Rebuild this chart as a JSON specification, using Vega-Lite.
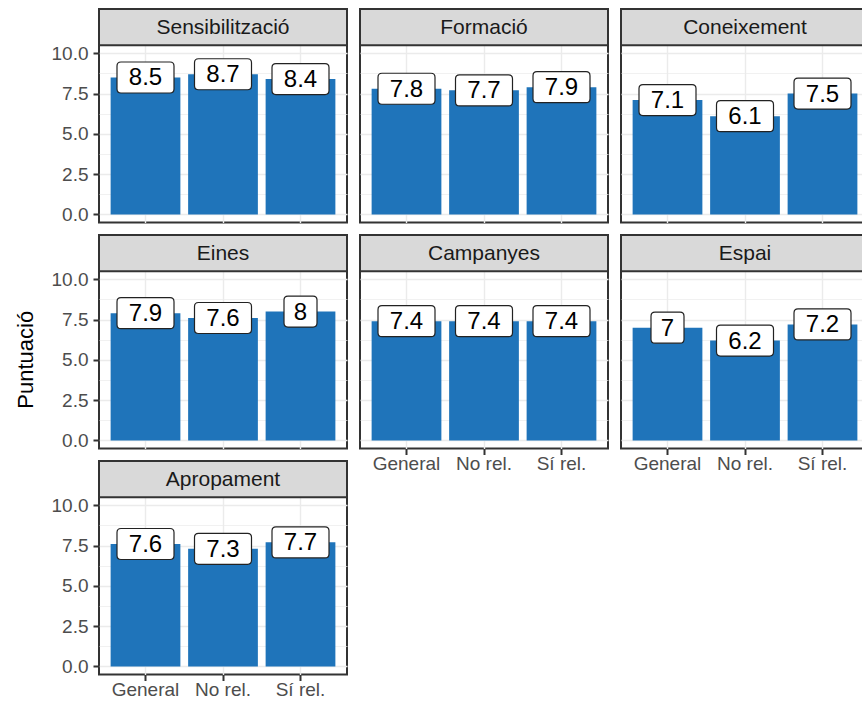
{
  "$schema": "https://vega.github.io/schema/vega-lite/v6.json",
  "padding": {"top": 7, "left": 15, "right": 0, "bottom": 0},
  "background": "white",
  "title": {"text": "Puntuació", "orient": "left", "anchor": "middle", "font": "Liberation Sans", "fontSize": 22, "fontWeight": "normal", "color": "#000000", "offset": 12, "dx": -6},
  "data": {"values": [
    {"panel": "Sensibilització", "group": "General", "value": 8.5},
    {"panel": "Sensibilització", "group": "No rel.", "value": 8.7},
    {"panel": "Sensibilització", "group": "Sí rel.", "value": 8.4},
    {"panel": "Formació", "group": "General", "value": 7.8},
    {"panel": "Formació", "group": "No rel.", "value": 7.7},
    {"panel": "Formació", "group": "Sí rel.", "value": 7.9},
    {"panel": "Coneixement", "group": "General", "value": 7.1},
    {"panel": "Coneixement", "group": "No rel.", "value": 6.1},
    {"panel": "Coneixement", "group": "Sí rel.", "value": 7.5},
    {"panel": "Eines", "group": "General", "value": 7.9},
    {"panel": "Eines", "group": "No rel.", "value": 7.6},
    {"panel": "Eines", "group": "Sí rel.", "value": 8},
    {"panel": "Campanyes", "group": "General", "value": 7.4},
    {"panel": "Campanyes", "group": "No rel.", "value": 7.4},
    {"panel": "Campanyes", "group": "Sí rel.", "value": 7.4},
    {"panel": "Espai", "group": "General", "value": 7},
    {"panel": "Espai", "group": "No rel.", "value": 6.2},
    {"panel": "Espai", "group": "Sí rel.", "value": 7.2},
    {"panel": "Apropament", "group": "General", "value": 7.6},
    {"panel": "Apropament", "group": "No rel.", "value": 7.3},
    {"panel": "Apropament", "group": "Sí rel.", "value": 7.7}
  ]},
  "columns": 3,
  "spacing": {"row": 12, "column": 13},
  "bounds": "flush",
  "concat": [
    {
      "transform": [{"filter": "datum.panel === 'Sensibilització'"}],
      "width": 248, "height": 213.5,
      "encoding": {
        "x": {"field": "group", "type": "nominal", "sort": ["General", "No rel.", "Sí rel."], "scale": {"paddingInner": 0.1, "paddingOuter": 0.15}, "axis": {"title": null, "labels": false, "ticks": false, "bandPosition": 0.5}},
        "y": {"field": "value", "type": "quantitative", "scale": {"domain": [-0.5, 12.75], "nice": false, "zero": false}, "axis": {"title": null, "values": [0, 1.25, 2.5, 3.75, 5, 6.25, 7.5, 8.75, 10], "labelExpr": "datum.value % 2.5 === 0 ? format(datum.value, '.1f') : ''", "gridWidth": {"condition": {"test": "datum.value % 2.5 === 0", "value": 1.4}, "value": 0.7}, "tickOpacity": {"condition": {"test": "datum.value % 2.5 === 0", "value": 1}, "value": 0}}}
      },
      "layer": [
        {"mark": {"type": "bar", "color": "#1F74BA"}},
        {"mark": {"type": "point", "filled": true, "fill": "white", "stroke": "#222222", "strokeWidth": 1.2, "opacity": 1, "size": 3249},
         "encoding": {"shape": {"condition": {"test": "datum.value % 1 === 0", "value": "M-0.439,-0.544H0.439Q0.579,-0.544 0.579,-0.404V0.404Q0.579,0.544 0.439,0.544H-0.439Q-0.579,0.544 -0.579,0.404V-0.404Q-0.579,-0.544 -0.439,-0.544Z"}, "value": "M-0.86,-0.544H0.86Q1,-0.544 1,-0.404V0.404Q1,0.544 0.86,0.544H-0.86Q-1,0.544 -1,0.404V-0.404Q-1,-0.544 -0.86,-0.544Z"}}},
        {"mark": {"type": "text", "font": "Liberation Sans", "fontSize": 24, "color": "#000000", "baseline": "middle", "dy": 1},
         "encoding": {"text": {"field": "value", "type": "nominal"}}},
        {"transform": [{"filter": "datum.group === 'General'"}],
         "mark": {"type": "rect", "fill": "#D9D9D9", "stroke": "#333333", "strokeWidth": 2},
         "encoding": {"x": {"value": 0}, "x2": {"value": "width"}, "y": {"datum": 10.5, "type": "quantitative"}, "y2": {"datum": 12.75}}},
        {"transform": [{"filter": "datum.group === 'General'"}],
         "mark": {"type": "text", "font": "Liberation Sans", "fontSize": 21, "color": "#1A1A1A", "baseline": "middle", "dy": 1},
         "encoding": {"x": {"datum": "No rel.", "type": "nominal"}, "y": {"datum": 11.62, "type": "quantitative"}, "text": {"field": "panel", "type": "nominal"}}}
      ]
    },
    {
      "transform": [{"filter": "datum.panel === 'Formació'"}],
      "width": 248, "height": 213.5,
      "encoding": {
        "x": {"field": "group", "type": "nominal", "sort": ["General", "No rel.", "Sí rel."], "scale": {"paddingInner": 0.1, "paddingOuter": 0.15}, "axis": {"title": null, "labels": false, "ticks": false, "bandPosition": 0.5}},
        "y": {"field": "value", "type": "quantitative", "scale": {"domain": [-0.5, 12.75], "nice": false, "zero": false}, "axis": {"title": null, "values": [0, 1.25, 2.5, 3.75, 5, 6.25, 7.5, 8.75, 10], "labels": false, "ticks": false, "gridWidth": {"condition": {"test": "datum.value % 2.5 === 0", "value": 1.4}, "value": 0.7}}}
      },
      "layer": [
        {"mark": {"type": "bar", "color": "#1F74BA"}},
        {"mark": {"type": "point", "filled": true, "fill": "white", "stroke": "#222222", "strokeWidth": 1.2, "opacity": 1, "size": 3249},
         "encoding": {"shape": {"condition": {"test": "datum.value % 1 === 0", "value": "M-0.439,-0.544H0.439Q0.579,-0.544 0.579,-0.404V0.404Q0.579,0.544 0.439,0.544H-0.439Q-0.579,0.544 -0.579,0.404V-0.404Q-0.579,-0.544 -0.439,-0.544Z"}, "value": "M-0.86,-0.544H0.86Q1,-0.544 1,-0.404V0.404Q1,0.544 0.86,0.544H-0.86Q-1,0.544 -1,0.404V-0.404Q-1,-0.544 -0.86,-0.544Z"}}},
        {"mark": {"type": "text", "font": "Liberation Sans", "fontSize": 24, "color": "#000000", "baseline": "middle", "dy": 1},
         "encoding": {"text": {"field": "value", "type": "nominal"}}},
        {"transform": [{"filter": "datum.group === 'General'"}],
         "mark": {"type": "rect", "fill": "#D9D9D9", "stroke": "#333333", "strokeWidth": 2},
         "encoding": {"x": {"value": 0}, "x2": {"value": "width"}, "y": {"datum": 10.5, "type": "quantitative"}, "y2": {"datum": 12.75}}},
        {"transform": [{"filter": "datum.group === 'General'"}],
         "mark": {"type": "text", "font": "Liberation Sans", "fontSize": 21, "color": "#1A1A1A", "baseline": "middle", "dy": 1},
         "encoding": {"x": {"datum": "No rel.", "type": "nominal"}, "y": {"datum": 11.62, "type": "quantitative"}, "text": {"field": "panel", "type": "nominal"}}}
      ]
    },
    {
      "transform": [{"filter": "datum.panel === 'Coneixement'"}],
      "width": 248, "height": 213.5,
      "encoding": {
        "x": {"field": "group", "type": "nominal", "sort": ["General", "No rel.", "Sí rel."], "scale": {"paddingInner": 0.1, "paddingOuter": 0.15}, "axis": {"title": null, "labels": false, "ticks": false, "bandPosition": 0.5}},
        "y": {"field": "value", "type": "quantitative", "scale": {"domain": [-0.5, 12.75], "nice": false, "zero": false}, "axis": {"title": null, "values": [0, 1.25, 2.5, 3.75, 5, 6.25, 7.5, 8.75, 10], "labels": false, "ticks": false, "gridWidth": {"condition": {"test": "datum.value % 2.5 === 0", "value": 1.4}, "value": 0.7}}}
      },
      "layer": [
        {"mark": {"type": "bar", "color": "#1F74BA"}},
        {"mark": {"type": "point", "filled": true, "fill": "white", "stroke": "#222222", "strokeWidth": 1.2, "opacity": 1, "size": 3249},
         "encoding": {"shape": {"condition": {"test": "datum.value % 1 === 0", "value": "M-0.439,-0.544H0.439Q0.579,-0.544 0.579,-0.404V0.404Q0.579,0.544 0.439,0.544H-0.439Q-0.579,0.544 -0.579,0.404V-0.404Q-0.579,-0.544 -0.439,-0.544Z"}, "value": "M-0.86,-0.544H0.86Q1,-0.544 1,-0.404V0.404Q1,0.544 0.86,0.544H-0.86Q-1,0.544 -1,0.404V-0.404Q-1,-0.544 -0.86,-0.544Z"}}},
        {"mark": {"type": "text", "font": "Liberation Sans", "fontSize": 24, "color": "#000000", "baseline": "middle", "dy": 1},
         "encoding": {"text": {"field": "value", "type": "nominal"}}},
        {"transform": [{"filter": "datum.group === 'General'"}],
         "mark": {"type": "rect", "fill": "#D9D9D9", "stroke": "#333333", "strokeWidth": 2},
         "encoding": {"x": {"value": 0}, "x2": {"value": "width"}, "y": {"datum": 10.5, "type": "quantitative"}, "y2": {"datum": 12.75}}},
        {"transform": [{"filter": "datum.group === 'General'"}],
         "mark": {"type": "text", "font": "Liberation Sans", "fontSize": 21, "color": "#1A1A1A", "baseline": "middle", "dy": 1},
         "encoding": {"x": {"datum": "No rel.", "type": "nominal"}, "y": {"datum": 11.62, "type": "quantitative"}, "text": {"field": "panel", "type": "nominal"}}}
      ]
    },
    {
      "transform": [{"filter": "datum.panel === 'Eines'"}],
      "width": 248, "height": 213.5,
      "encoding": {
        "x": {"field": "group", "type": "nominal", "sort": ["General", "No rel.", "Sí rel."], "scale": {"paddingInner": 0.1, "paddingOuter": 0.15}, "axis": {"title": null, "labels": false, "ticks": false, "bandPosition": 0.5}},
        "y": {"field": "value", "type": "quantitative", "scale": {"domain": [-0.5, 12.75], "nice": false, "zero": false}, "axis": {"title": null, "values": [0, 1.25, 2.5, 3.75, 5, 6.25, 7.5, 8.75, 10], "labelExpr": "datum.value % 2.5 === 0 ? format(datum.value, '.1f') : ''", "gridWidth": {"condition": {"test": "datum.value % 2.5 === 0", "value": 1.4}, "value": 0.7}, "tickOpacity": {"condition": {"test": "datum.value % 2.5 === 0", "value": 1}, "value": 0}}}
      },
      "layer": [
        {"mark": {"type": "bar", "color": "#1F74BA"}},
        {"mark": {"type": "point", "filled": true, "fill": "white", "stroke": "#222222", "strokeWidth": 1.2, "opacity": 1, "size": 3249},
         "encoding": {"shape": {"condition": {"test": "datum.value % 1 === 0", "value": "M-0.439,-0.544H0.439Q0.579,-0.544 0.579,-0.404V0.404Q0.579,0.544 0.439,0.544H-0.439Q-0.579,0.544 -0.579,0.404V-0.404Q-0.579,-0.544 -0.439,-0.544Z"}, "value": "M-0.86,-0.544H0.86Q1,-0.544 1,-0.404V0.404Q1,0.544 0.86,0.544H-0.86Q-1,0.544 -1,0.404V-0.404Q-1,-0.544 -0.86,-0.544Z"}}},
        {"mark": {"type": "text", "font": "Liberation Sans", "fontSize": 24, "color": "#000000", "baseline": "middle", "dy": 1},
         "encoding": {"text": {"field": "value", "type": "nominal"}}},
        {"transform": [{"filter": "datum.group === 'General'"}],
         "mark": {"type": "rect", "fill": "#D9D9D9", "stroke": "#333333", "strokeWidth": 2},
         "encoding": {"x": {"value": 0}, "x2": {"value": "width"}, "y": {"datum": 10.5, "type": "quantitative"}, "y2": {"datum": 12.75}}},
        {"transform": [{"filter": "datum.group === 'General'"}],
         "mark": {"type": "text", "font": "Liberation Sans", "fontSize": 21, "color": "#1A1A1A", "baseline": "middle", "dy": 1},
         "encoding": {"x": {"datum": "No rel.", "type": "nominal"}, "y": {"datum": 11.62, "type": "quantitative"}, "text": {"field": "panel", "type": "nominal"}}}
      ]
    },
    {
      "transform": [{"filter": "datum.panel === 'Campanyes'"}],
      "width": 248, "height": 213.5,
      "encoding": {
        "x": {"field": "group", "type": "nominal", "sort": ["General", "No rel.", "Sí rel."], "scale": {"paddingInner": 0.1, "paddingOuter": 0.15}, "axis": {"title": null, "labelAngle": 0, "bandPosition": 0.5}},
        "y": {"field": "value", "type": "quantitative", "scale": {"domain": [-0.5, 12.75], "nice": false, "zero": false}, "axis": {"title": null, "values": [0, 1.25, 2.5, 3.75, 5, 6.25, 7.5, 8.75, 10], "labels": false, "ticks": false, "gridWidth": {"condition": {"test": "datum.value % 2.5 === 0", "value": 1.4}, "value": 0.7}}}
      },
      "layer": [
        {"mark": {"type": "bar", "color": "#1F74BA"}},
        {"mark": {"type": "point", "filled": true, "fill": "white", "stroke": "#222222", "strokeWidth": 1.2, "opacity": 1, "size": 3249},
         "encoding": {"shape": {"condition": {"test": "datum.value % 1 === 0", "value": "M-0.439,-0.544H0.439Q0.579,-0.544 0.579,-0.404V0.404Q0.579,0.544 0.439,0.544H-0.439Q-0.579,0.544 -0.579,0.404V-0.404Q-0.579,-0.544 -0.439,-0.544Z"}, "value": "M-0.86,-0.544H0.86Q1,-0.544 1,-0.404V0.404Q1,0.544 0.86,0.544H-0.86Q-1,0.544 -1,0.404V-0.404Q-1,-0.544 -0.86,-0.544Z"}}},
        {"mark": {"type": "text", "font": "Liberation Sans", "fontSize": 24, "color": "#000000", "baseline": "middle", "dy": 1},
         "encoding": {"text": {"field": "value", "type": "nominal"}}},
        {"transform": [{"filter": "datum.group === 'General'"}],
         "mark": {"type": "rect", "fill": "#D9D9D9", "stroke": "#333333", "strokeWidth": 2},
         "encoding": {"x": {"value": 0}, "x2": {"value": "width"}, "y": {"datum": 10.5, "type": "quantitative"}, "y2": {"datum": 12.75}}},
        {"transform": [{"filter": "datum.group === 'General'"}],
         "mark": {"type": "text", "font": "Liberation Sans", "fontSize": 21, "color": "#1A1A1A", "baseline": "middle", "dy": 1},
         "encoding": {"x": {"datum": "No rel.", "type": "nominal"}, "y": {"datum": 11.62, "type": "quantitative"}, "text": {"field": "panel", "type": "nominal"}}}
      ]
    },
    {
      "transform": [{"filter": "datum.panel === 'Espai'"}],
      "width": 248, "height": 213.5,
      "encoding": {
        "x": {"field": "group", "type": "nominal", "sort": ["General", "No rel.", "Sí rel."], "scale": {"paddingInner": 0.1, "paddingOuter": 0.15}, "axis": {"title": null, "labelAngle": 0, "bandPosition": 0.5}},
        "y": {"field": "value", "type": "quantitative", "scale": {"domain": [-0.5, 12.75], "nice": false, "zero": false}, "axis": {"title": null, "values": [0, 1.25, 2.5, 3.75, 5, 6.25, 7.5, 8.75, 10], "labels": false, "ticks": false, "gridWidth": {"condition": {"test": "datum.value % 2.5 === 0", "value": 1.4}, "value": 0.7}}}
      },
      "layer": [
        {"mark": {"type": "bar", "color": "#1F74BA"}},
        {"mark": {"type": "point", "filled": true, "fill": "white", "stroke": "#222222", "strokeWidth": 1.2, "opacity": 1, "size": 3249},
         "encoding": {"shape": {"condition": {"test": "datum.value % 1 === 0", "value": "M-0.439,-0.544H0.439Q0.579,-0.544 0.579,-0.404V0.404Q0.579,0.544 0.439,0.544H-0.439Q-0.579,0.544 -0.579,0.404V-0.404Q-0.579,-0.544 -0.439,-0.544Z"}, "value": "M-0.86,-0.544H0.86Q1,-0.544 1,-0.404V0.404Q1,0.544 0.86,0.544H-0.86Q-1,0.544 -1,0.404V-0.404Q-1,-0.544 -0.86,-0.544Z"}}},
        {"mark": {"type": "text", "font": "Liberation Sans", "fontSize": 24, "color": "#000000", "baseline": "middle", "dy": 1},
         "encoding": {"text": {"field": "value", "type": "nominal"}}},
        {"transform": [{"filter": "datum.group === 'General'"}],
         "mark": {"type": "rect", "fill": "#D9D9D9", "stroke": "#333333", "strokeWidth": 2},
         "encoding": {"x": {"value": 0}, "x2": {"value": "width"}, "y": {"datum": 10.5, "type": "quantitative"}, "y2": {"datum": 12.75}}},
        {"transform": [{"filter": "datum.group === 'General'"}],
         "mark": {"type": "text", "font": "Liberation Sans", "fontSize": 21, "color": "#1A1A1A", "baseline": "middle", "dy": 1},
         "encoding": {"x": {"datum": "No rel.", "type": "nominal"}, "y": {"datum": 11.62, "type": "quantitative"}, "text": {"field": "panel", "type": "nominal"}}}
      ]
    },
    {
      "transform": [{"filter": "datum.panel === 'Apropament'"}],
      "width": 248, "height": 213.5,
      "encoding": {
        "x": {"field": "group", "type": "nominal", "sort": ["General", "No rel.", "Sí rel."], "scale": {"paddingInner": 0.1, "paddingOuter": 0.15}, "axis": {"title": null, "labelAngle": 0, "bandPosition": 0.5}},
        "y": {"field": "value", "type": "quantitative", "scale": {"domain": [-0.5, 12.75], "nice": false, "zero": false}, "axis": {"title": null, "values": [0, 1.25, 2.5, 3.75, 5, 6.25, 7.5, 8.75, 10], "labelExpr": "datum.value % 2.5 === 0 ? format(datum.value, '.1f') : ''", "gridWidth": {"condition": {"test": "datum.value % 2.5 === 0", "value": 1.4}, "value": 0.7}, "tickOpacity": {"condition": {"test": "datum.value % 2.5 === 0", "value": 1}, "value": 0}}}
      },
      "layer": [
        {"mark": {"type": "bar", "color": "#1F74BA"}},
        {"mark": {"type": "point", "filled": true, "fill": "white", "stroke": "#222222", "strokeWidth": 1.2, "opacity": 1, "size": 3249},
         "encoding": {"shape": {"condition": {"test": "datum.value % 1 === 0", "value": "M-0.439,-0.544H0.439Q0.579,-0.544 0.579,-0.404V0.404Q0.579,0.544 0.439,0.544H-0.439Q-0.579,0.544 -0.579,0.404V-0.404Q-0.579,-0.544 -0.439,-0.544Z"}, "value": "M-0.86,-0.544H0.86Q1,-0.544 1,-0.404V0.404Q1,0.544 0.86,0.544H-0.86Q-1,0.544 -1,0.404V-0.404Q-1,-0.544 -0.86,-0.544Z"}}},
        {"mark": {"type": "text", "font": "Liberation Sans", "fontSize": 24, "color": "#000000", "baseline": "middle", "dy": 1},
         "encoding": {"text": {"field": "value", "type": "nominal"}}},
        {"transform": [{"filter": "datum.group === 'General'"}],
         "mark": {"type": "rect", "fill": "#D9D9D9", "stroke": "#333333", "strokeWidth": 2},
         "encoding": {"x": {"value": 0}, "x2": {"value": "width"}, "y": {"datum": 10.5, "type": "quantitative"}, "y2": {"datum": 12.75}}},
        {"transform": [{"filter": "datum.group === 'General'"}],
         "mark": {"type": "text", "font": "Liberation Sans", "fontSize": 21, "color": "#1A1A1A", "baseline": "middle", "dy": 1},
         "encoding": {"x": {"datum": "No rel.", "type": "nominal"}, "y": {"datum": 11.62, "type": "quantitative"}, "text": {"field": "panel", "type": "nominal"}}}
      ]
    }
  ],
  "config": {
    "view": {"stroke": "#333333", "strokeWidth": 2},
    "axis": {"grid": true, "gridColor": "#EBEBEB", "gridWidth": 1.4, "domain": false, "tickSize": 6, "tickWidth": 2, "tickColor": "#333333", "labelColor": "#4D4D4D", "labelFont": "Liberation Sans", "labelFontSize": 19},
    "axisX": {"labelPadding": 0},
    "axisY": {"labelPadding": 5}
  }
}
